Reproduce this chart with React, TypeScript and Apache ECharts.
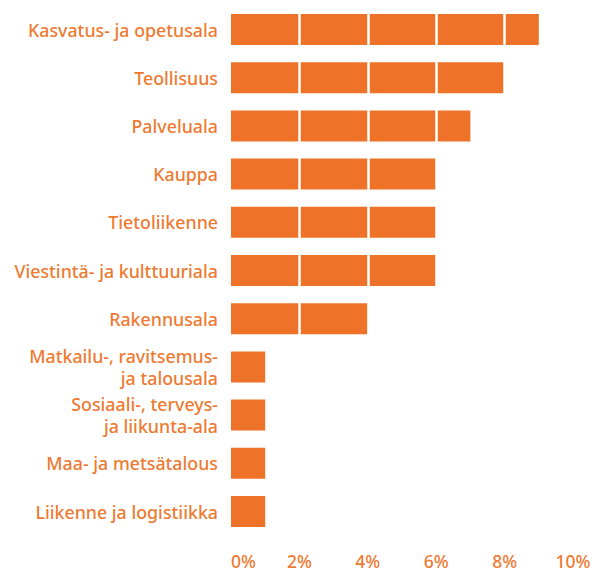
import React, { useEffect, useRef } from "react";
import * as echarts from "echarts";

const categories = [
  "Kasvatus- ja opetusala",
  "Teollisuus",
  "Palveluala",
  "Kauppa",
  "Tietoliikenne",
  "Viestintä- ja kulttuuriala",
  "Rakennusala",
  "Matkailu-, ravitsemus-\nja talousala",
  "Sosiaali-, terveys-\nja liikunta-ala",
  "Maa- ja metsätalous",
  "Liikenne ja logistiikka",
];
const values = [9, 8, 7, 6, 6, 6, 4, 1, 1, 1, 1];

const ORANGE = "#EE7328";
const TEXT = "#EE7A32";

export default function App() {
  const ref = useRef<HTMLDivElement>(null);
  useEffect(() => {
    if (!ref.current) return;
    const chart = echarts.init(ref.current, null, { renderer: "svg" });
    chart.setOption({
      animation: false,
      backgroundColor: "#ffffff",
      grid: { left: 231, right: 32, top: 5.4, bottom: 37.4, containLabel: false },
      xAxis: {
        type: "value",
        min: 0,
        max: 10,
        interval: 2,
        z: 5,
        axisLine: { show: false },
        axisTick: { show: false },
        axisLabel: {
          formatter: "{value}%",
          color: TEXT,
          fontFamily: "Noto Sans",
          fontSize: 17.5,
          fontWeight: 500,
          margin: 16,
          alignMinLabel: "left",
        },
        splitLine: {
          show: true,
          showMinLine: false,
          showMaxLine: false,
          lineStyle: { color: "#ffffff", width: 2.5 },
        },
      },
      yAxis: {
        type: "category",
        data: categories,
        inverse: true,
        axisLine: { show: false },
        axisTick: { show: false },
        splitLine: { show: false },
        axisLabel: {
          color: TEXT,
          fontFamily: "Noto Sans",
          fontSize: 17.8,
          fontWeight: 500,
          margin: 13,
          lineHeight: 22,
          align: "right",
        },
      },
      series: [
        {
          type: "bar",
          data: values,
          barWidth: 31,
          itemStyle: { color: ORANGE },
          z: 2,
        },
      ],
    });
    return () => chart.dispose();
  }, []);
  return <div ref={ref} style={{ width: 605, height: 573, position: "absolute", left: 0, top: 0 }} />;
}
